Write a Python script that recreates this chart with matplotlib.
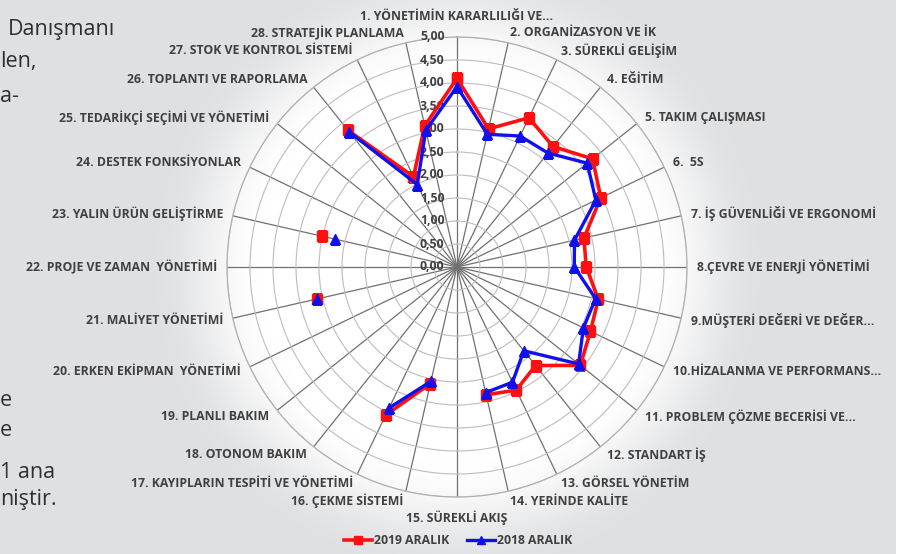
import numpy as np
import matplotlib
matplotlib.use("Agg")
import matplotlib.pyplot as plt
from matplotlib.lines import Line2D


# ---------------------------------------------------
# DATA
# ---------------------------------------------------
categories = [
    "1. YÖNETİMİN KARARLILIĞI VE...",
    "2. ORGANİZASYON VE İK",
    "3. SÜREKLİ GELİŞİM",
    "4. EĞİTİM",
    "5. TAKIM ÇALIŞMASI",
    "6.  5S",
    "7. İŞ GÜVENLİĞİ VE ERGONOMİ",
    "8.ÇEVRE VE ENERJİ YÖNETİMİ",
    "9.MÜŞTERİ DEĞERİ VE DEĞER...",
    "10.HİZALANMA VE PERFORMANS...",
    "11. PROBLEM ÇÖZME BECERİSİ VE...",
    "12. STANDART İŞ",
    "13. GÖRSEL YÖNETİM",
    "14. YERİNDE KALİTE",
    "15. SÜREKLİ AKIŞ",
    "16. ÇEKME SİSTEMİ",
    "17. KAYIPLARIN TESPİTİ VE YÖNETİMİ",
    "18. OTONOM BAKIM",
    "19. PLANLI BAKIM",
    "20. ERKEN EKİPMAN  YÖNETİMİ",
    "21. MALİYET YÖNETİMİ",
    "22. PROJE VE ZAMAN  YÖNETİMİ",
    "23. YALIN ÜRÜN GELİŞTİRME",
    "24. DESTEK FONKSİYONLAR",
    "25. TEDARİKÇİ SEÇİMİ VE YÖNETİMİ",
    "26. TOPLANTI VE RAPORLAMA",
    "27. STOK VE KONTROL SİSTEMİ",
    "28. STRATEJİK PLANLAMA",
]

nan = np.nan
values_2019 = [4.10, 3.08, 3.60, 3.35, 3.77, 3.47, 2.83, 2.81, 3.15, 3.22,
               3.43, 2.74, 2.97, 2.85, nan, 2.60, 3.57, nan, nan, nan,
               3.12, nan, 3.01, nan, nan, 3.80, 2.18, 3.15]
values_2018 = [3.92, 2.96, 3.16, 3.17, 3.62, 3.35, 2.62, 2.55, 3.09, 3.05,
               3.38, 2.33, 2.78, 2.80, nan, 2.55, 3.40, nan, nan, nan,
               3.12, nan, 2.73, nan, nan, 3.75, 1.99, 3.05]

series_names = ["2019 ARALIK", "2018 ARALIK"]
r_ticks = [0.0, 0.5, 1.0, 1.5, 2.0, 2.5, 3.0, 3.5, 4.0, 4.5, 5.0]

# page text fragments cut off at the left edge
side_text = ["Danışmanı", "len,", "a-", "e", "e", "1 ana", "niştir."]
side_text_xy = [(8, 30), (0, 62), (0, 96), (0, 401), (0, 430), (0, 472), (0, 500)]

W, H = 919, 554
RED = "#ff1010"
BLUE = "#1010ee"
TEXT = "#404040"
FS = 8.8
FONT = dict(family="Open Sans", fontweight="bold", color=TEXT, fontsize=FS)

fig = plt.figure(figsize=(W / 100, H / 100), dpi=100)

# ---------------------------------------------------
# BACKGROUND (grey page with a white glow behind the chart)
# ---------------------------------------------------
bg_ax = fig.add_axes([0, 0, 1, 1], zorder=0)
yy, xx = np.mgrid[0:H, 0:W]
d = np.hypot(xx - 457, yy - 267)
t = np.clip((d - 195) / 110, 0, 1)
t = t * t * (3 - 2 * t)
grey = np.array([0.878, 0.882, 0.890])
img = (1 - t[..., None]) * 1.0 + t[..., None] * grey
img[:, 896:] = 1.0
bg_ax.imshow(img, extent=[0, W, H, 0], aspect="auto")
bg_ax.set_xlim(0, W)
bg_ax.set_ylim(H, 0)
bg_ax.axis("off")

for txt, (x, y) in zip(side_text, side_text_xy):
    fig.text(x / W, 1 - y / H, txt, ha="left", va="center", fontsize=15.5,
             family="Open Sans", color="#2f2f2f")

# ---------------------------------------------------
# RADAR
# ---------------------------------------------------
cx, cy, rad = 457, 267, 230
ax = fig.add_axes([(cx - rad) / W, 1 - (cy + rad) / H, 2 * rad / W, 2 * rad / H],
                  polar=True, zorder=1)
ax.set_facecolor("none")
ax.set_theta_offset(np.pi / 2)
ax.set_theta_direction(-1)

n = len(categories)
angles = np.arange(n) * 2 * np.pi / n

ax.set_ylim(0, 5)
ax.set_xticks(angles)
ax.set_xticklabels([])
ax.set_yticks(r_ticks[1:])
ax.set_yticklabels([])
ax.xaxis.grid(True, color="#707070", linewidth=0.9)
ax.yaxis.grid(True, color="#bdbdbd", linewidth=0.8)
ax.spines["polar"].set_color("#b0b0b0")
ax.spines["polar"].set_linewidth(0.9)
ax.tick_params(length=0)

# radial value labels
for r in r_ticks:
    ax.annotate(f"{r:.2f}".replace(".", ","), xy=(0, r), xytext=(-9, 0),
                textcoords="offset points", ha="right", va="center", **FONT)

# category labels
for ang, lab in zip(angles, categories):
    deg = np.degrees(ang)
    if np.isclose(deg, 0):
        ax.text(ang, 5.30, lab, ha="center", va="bottom", **FONT)
    elif np.isclose(deg, 180):
        ax.text(ang, 5.30, lab, ha="center", va="top", **FONT)
    else:
        ax.text(ang, 5.22, lab, ha="left" if deg < 180 else "right",
                va="center", **FONT)

# series (close the loop so 28 joins back to 1)
ang_closed = np.append(angles, angles[0])
v19 = np.append(values_2019, values_2019[0])
v18 = np.append(values_2018, values_2018[0])

ax.plot(ang_closed, v19, color=RED, linewidth=2.6, marker="s", markersize=6.5,
        label=series_names[0], zorder=3)
ax.plot(ang_closed, v18, color=BLUE, linewidth=2.4, marker="^", markersize=6.5,
        label=series_names[1], zorder=4)

# ---------------------------------------------------
# LEGEND
# ---------------------------------------------------
handles = [
    Line2D([], [], color=RED, linewidth=2.6, marker="s", markersize=6),
    Line2D([], [], color=BLUE, linewidth=2.4, marker="^", markersize=6),
]
leg = fig.legend(handles, series_names, loc="center", ncol=2,
                 bbox_to_anchor=(458 / W, 1 - 541 / H), frameon=False,
                 handlelength=2.3, columnspacing=1.5, handletextpad=0.1,
                 prop={"family": "Open Sans", "size": FS, "weight": "bold"})
for t_ in leg.get_texts():
    t_.set_color(TEXT)

fig.savefig("out.png", dpi=100)
